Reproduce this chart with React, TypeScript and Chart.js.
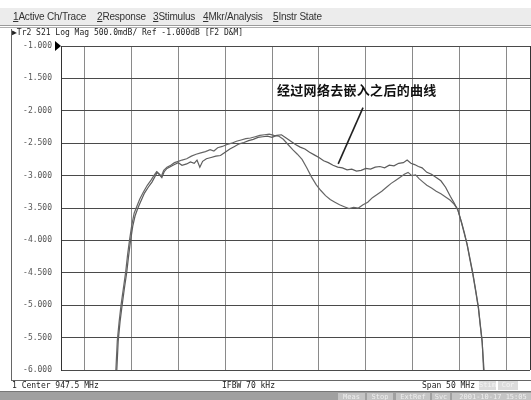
import React, { useEffect, useRef } from "react";
import { Chart, registerables } from "chart.js";

Chart.register(...registerables);

// Frequency axis (MHz): center 947.5, span 50
const freqMin = 922.5;
const freqMax = 972.5;
const freqGridTicks = [922.5, 925, 930, 935, 940, 945, 950, 955, 960, 965, 970, 972.5];

// Y axis (dB)
const dbMin = -6;
const dbMax = -1;
const dbStep = 0.5;

// Trace after de-embedding (upper on the right side)
const freqA = [
  928.3, 928.45, 928.6, 928.8, 929.0, 929.25, 929.5, 929.7, 929.9, 930.15, 930.4, 930.7,
  931.0, 931.4, 931.8, 932.2, 932.5, 932.75, 933.0, 933.25, 933.5, 933.8, 934.2, 934.6,
  935.0, 935.4, 935.9, 936.3, 936.7, 937.0, 937.3, 937.6, 938.0, 938.5, 939.0, 939.5,
  940.0, 940.5, 941.0, 941.5, 942.0, 942.5, 943.0, 943.5, 944.0, 944.5, 945.0, 945.5,
  946.0, 946.5, 947.0, 947.5, 948.0, 948.5, 949.0, 949.5, 950.0, 950.5, 951.0, 951.5,
  952.0, 952.5, 953.0, 953.5, 954.0, 954.5, 955.0, 955.5, 956.0, 956.5, 957.0, 957.5,
  958.0, 958.5, 959.0, 959.4, 959.8, 960.2, 960.6, 961.0, 961.5, 962.0, 962.5, 963.0,
  963.5, 964.0, 964.4, 964.8, 965.2, 965.5, 965.8, 966.1, 966.4, 966.7, 967.0, 967.2,
  967.4, 967.55, 967.7,
];
const dbA = [
  -6.6, -6.0, -5.55, -5.25, -5.02, -4.75, -4.5, -4.25, -4.02, -3.78, -3.62, -3.5,
  -3.4, -3.27, -3.18, -3.1, -3.02, -2.95, -2.99, -3.03, -2.94, -2.89, -2.86, -2.83,
  -2.8, -2.84, -2.82, -2.79, -2.81, -2.76, -2.87, -2.78, -2.74, -2.72, -2.7, -2.69,
  -2.64, -2.59, -2.55, -2.51, -2.49, -2.46, -2.44, -2.41, -2.4, -2.39, -2.41, -2.38,
  -2.37, -2.42, -2.47, -2.52, -2.56, -2.59, -2.64, -2.68, -2.72, -2.77, -2.8, -2.84,
  -2.87, -2.88, -2.91, -2.9, -2.93, -2.92, -2.89, -2.9, -2.87, -2.86, -2.88, -2.84,
  -2.85, -2.81, -2.8, -2.76, -2.81, -2.83, -2.86, -2.88, -2.95, -2.98, -3.03, -3.08,
  -3.18, -3.32, -3.42, -3.53, -3.72, -3.88, -4.06, -4.28, -4.5, -4.76, -5.03, -5.3,
  -5.55, -6.0, -6.6,
];

// Trace before de-embedding (dips to -3.5 dB on the right side)
const freqB = [
  928.2, 928.35, 928.5, 928.7, 928.9, 929.15, 929.4, 929.6, 929.8, 930.05, 930.3, 930.6,
  930.9, 931.3, 931.7, 932.1, 932.4, 932.7, 932.95, 933.2, 933.45, 933.8, 934.2, 934.6,
  935.0, 935.4, 935.9, 936.4, 936.9, 937.4, 937.9, 938.4, 938.8, 939.2, 939.7, 940.2,
  940.7, 941.2, 941.7, 942.2, 942.7, 943.2, 943.7, 944.2, 944.7, 945.2, 945.7, 946.2,
  946.7, 947.2, 947.7, 948.2, 948.7, 949.2, 949.7, 950.2, 950.7, 951.2, 951.7, 952.2,
  952.7, 953.2, 953.7, 954.2, 954.7, 955.2, 955.7, 956.2, 956.7, 957.2, 957.7, 958.2,
  958.7, 959.1, 959.5, 959.9, 960.3, 960.7, 961.1, 961.5, 962.0, 962.5, 963.0, 963.5,
  964.0, 964.4, 964.8, 965.2, 965.5, 965.8, 966.1, 966.4, 966.7, 967.0, 967.2, 967.4,
  967.6, 967.75,
];
const dbB = [
  -6.6, -6.0, -5.55, -5.25, -5.0, -4.74, -4.48, -4.22, -4.0, -3.76, -3.58, -3.47,
  -3.36, -3.25, -3.15, -3.07, -3.0, -2.94, -2.97, -3.01, -2.92, -2.87, -2.84, -2.8,
  -2.78, -2.76, -2.74, -2.7, -2.67, -2.65, -2.63, -2.6, -2.62, -2.57, -2.55, -2.52,
  -2.5, -2.47, -2.45, -2.43, -2.42, -2.4, -2.38, -2.37, -2.36, -2.38, -2.39, -2.44,
  -2.52, -2.6, -2.67, -2.75, -2.88, -3.02, -3.14, -3.23, -3.31, -3.37, -3.41, -3.45,
  -3.48, -3.51, -3.49, -3.5, -3.45, -3.41, -3.34, -3.29, -3.24, -3.18, -3.12, -3.07,
  -3.02, -2.98, -2.95, -3.0, -2.99, -3.05, -3.1, -3.15, -3.19, -3.24, -3.28, -3.33,
  -3.38, -3.44, -3.52, -3.73, -3.9, -4.07, -4.3, -4.52, -4.78, -5.05, -5.32, -5.58,
  -6.0, -6.6,
];

// Annotation arrow (data coordinates: MHz, dB)
const arrowFrom = { x: 954.7, y: -1.95 };
const arrowTo = { x: 952.05, y: -2.82 };

const menuItems = [
  { num: "1", label: "Active Ch/Trace", left: 13 },
  { num: "2", label: "Response", left: 97 },
  { num: "3", label: "Stimulus", left: 153 },
  { num: "4", label: "Mkr/Analysis", left: 203 },
  { num: "5", label: "Instr State", left: 273 },
];

const mono = "'DejaVu Sans Mono', 'Liberation Mono', monospace";

export default function App() {
  const canvasRef = useRef<HTMLCanvasElement | null>(null);

  useEffect(() => {
    const canvas = canvasRef.current;
    if (!canvas) return;
    const overlay = {
      id: "overlay",
      afterDatasetsDraw(chart: any) {
        const { ctx, chartArea, scales } = chart;
        const yTop = scales.y.getPixelForValue(dbMax);
        ctx.save();
        // reference marker
        ctx.fillStyle = "#000";
        ctx.beginPath();
        ctx.moveTo(chartArea.left - 6, yTop - 5);
        ctx.lineTo(chartArea.left, yTop);
        ctx.lineTo(chartArea.left - 6, yTop + 5);
        ctx.closePath();
        ctx.fill();
        // annotation pointer line
        ctx.strokeStyle = "#222";
        ctx.lineWidth = 1.6;
        ctx.beginPath();
        ctx.moveTo(scales.x.getPixelForValue(arrowFrom.x), scales.y.getPixelForValue(arrowFrom.y));
        ctx.lineTo(scales.x.getPixelForValue(arrowTo.x), scales.y.getPixelForValue(arrowTo.y));
        ctx.stroke();
        ctx.restore();
      },
    };
    const chart = new Chart(canvas, {
      type: "line",
      data: {
        datasets: [
          {
            label: "de-embedded",
            data: freqA.map((f, i) => ({ x: f, y: dbA[i] })),
            borderColor: "#5c5c5c",
            borderWidth: 1.2,
            pointRadius: 0,
            tension: 0,
          },
          {
            label: "original",
            data: freqB.map((f, i) => ({ x: f, y: dbB[i] })),
            borderColor: "#666666",
            borderWidth: 1.2,
            pointRadius: 0,
            tension: 0,
          },
        ],
      },
      options: {
        animation: false,
        responsive: false,
        devicePixelRatio: 1,
        layout: { padding: { left: 11, top: 46, right: 1, bottom: 30 } },
        plugins: { legend: { display: false }, tooltip: { enabled: false } },
        scales: {
          x: {
            type: "linear",
            min: freqMin,
            max: freqMax,
            afterBuildTicks: (s: any) => {
              s.ticks = freqGridTicks.map((v) => ({ value: v }));
            },
            ticks: { display: false },
            grid: {
              drawTicks: false,
              color: (c: any) =>
                c.tick && (c.tick.value === freqMin || c.tick.value === freqMax) ? "#333" : "#8a8a8a",
            },
            border: { display: false },
          },
          y: {
            min: dbMin,
            max: dbMax,
            afterFit: (s: any) => {
              s.width = 50;
            },
            ticks: {
              stepSize: dbStep,
              padding: 9,
              color: "#555",
              font: { family: mono, size: 8 },
              callback: (v: any) => Number(v).toFixed(3),
            },
            grid: { drawTicks: false, color: "#4a4a4a" },
            border: { display: true, color: "#333" },
          },
        },
      },
      plugins: [overlay],
    });
    return () => chart.destroy();
  }, []);

  return (
    <div
      style={{
        position: "absolute",
        left: 0,
        top: 0,
        width: 531,
        height: 400,
        background: "#fff",
        overflow: "hidden",
      }}
    >
      <canvas ref={canvasRef} width={531} height={400} style={{ position: "absolute", left: 0, top: 0 }} />
      {/* menu bar */}
      <div
        style={{
          position: "absolute",
          left: 0,
          top: 8,
          width: 531,
          height: 17,
          background: "#ececec",
          borderBottom: "1px solid #9a9a9a",
        }}
      >
        {menuItems.map((m) => (
          <span
            key={m.num}
            style={{
              position: "absolute",
              left: m.left,
              top: 3,
              fontFamily: "'Liberation Sans', Arial, sans-serif",
              fontSize: 10,
              lineHeight: "11px",
              color: "#333",
              letterSpacing: "-0.2px",
              whiteSpace: "nowrap",
            }}
          >
            <span style={{ textDecoration: "underline" }}>{m.num}</span>
            {m.label}
          </span>
        ))}
      </div>
      <div style={{ position: "absolute", left: 0, top: 27, width: 531, height: 1, background: "#b0b0b0" }} />
      {/* channel window frame */}
      <div
        style={{
          position: "absolute",
          left: 11,
          top: 29,
          width: 530,
          height: 351,
          borderLeft: "1px solid #666",
          borderBottom: "1px solid #666",
          pointerEvents: "none",
        }}
      />
      <div
        style={{
          position: "absolute",
          left: 12,
          top: 28,
          fontFamily: mono,
          fontSize: 8,
          lineHeight: "10px",
          color: "#222",
          whiteSpace: "pre",
        }}
      >
        {"▶Tr2 S21 Log Mag 500.0mdB/ Ref -1.000dB [F2 D&M]"}
      </div>
      {/* annotation */}
      <div
        style={{
          position: "absolute",
          left: 277,
          top: 83,
          fontFamily: "'Noto Sans CJK SC', sans-serif",
          fontWeight: "bold",
          fontSize: 13,
          lineHeight: "14px",
          letterSpacing: "0.3px",
          color: "#111",
          whiteSpace: "nowrap",
        }}
      >
        经过网络去嵌入之后的曲线
      </div>
      {/* status row */}
      <div style={{ position: "absolute", left: 12, top: 381, fontFamily: mono, fontSize: 8, lineHeight: "9px", color: "#222", whiteSpace: "pre" }}>
        {"1 Center 947.5 MHz"}
      </div>
      <div style={{ position: "absolute", left: 222, top: 381, fontFamily: mono, fontSize: 8, lineHeight: "9px", color: "#222", whiteSpace: "pre" }}>
        {"IFBW 70 kHz"}
      </div>
      <div style={{ position: "absolute", left: 422, top: 381, fontFamily: mono, fontSize: 8, lineHeight: "9px", color: "#222", whiteSpace: "pre" }}>
        {"Span 50 MHz"}
      </div>
      {[
        { t: "Stim", left: 479, w: 17 },
        { t: "Cor", left: 498, w: 20 },
      ].map((b) => (
        <div
          key={b.t}
          style={{
            position: "absolute",
            left: b.left,
            top: 381,
            width: b.w,
            height: 9,
            background: "#dcdcdc",
            color: "#f4f4f4",
            fontFamily: mono,
            fontSize: 7,
            lineHeight: "9px",
            textAlign: "center",
          }}
        >
          {b.t}
        </div>
      ))}
      {/* bottom bar */}
      <div
        style={{
          position: "absolute",
          left: 0,
          top: 391,
          width: 531,
          height: 9,
          background: "#a0a0a0",
          borderTop: "1px solid #777",
        }}
      >
        {[
          { t: "Meas", left: 338, w: 27 },
          { t: "Stop", left: 367, w: 26 },
          { t: "ExtRef", left: 396, w: 34 },
          { t: "Svc", left: 432, w: 18 },
          { t: "2001-10-17 15:05", left: 452, w: 82 },
        ].map((b) => (
          <div
            key={b.t}
            style={{
              position: "absolute",
              left: b.left,
              top: 1,
              width: b.w,
              height: 8,
              background: "#c4c4c4",
              color: "#eeeeee",
              fontFamily: mono,
              fontSize: 7,
              lineHeight: "8px",
              textAlign: "center",
              overflow: "hidden",
              whiteSpace: "nowrap",
            }}
          >
            {b.t}
          </div>
        ))}
      </div>
    </div>
  );
}
